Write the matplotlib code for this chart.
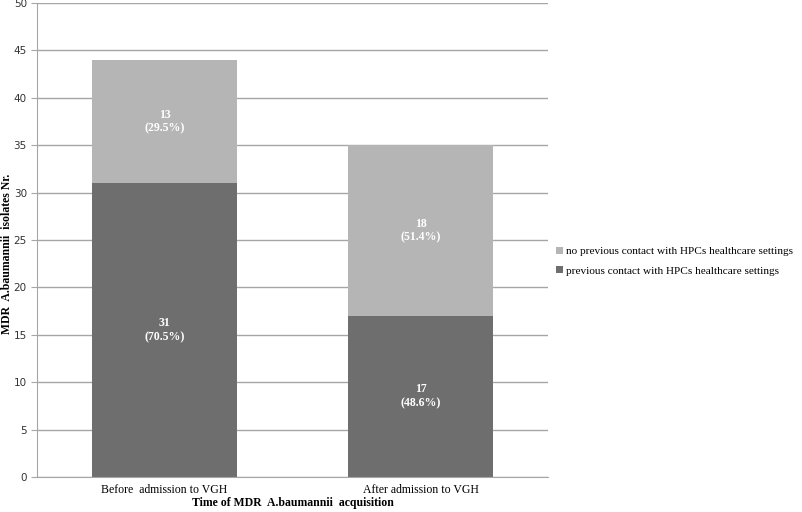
import matplotlib.pyplot as plt
import numpy as np

categories = ['Before  admission to VGH', 'After admission to VGH']
previous = [31, 17]
no_previous = [13, 18]
prev_pct = ['70.5%', '48.6%']
no_prev_pct = ['29.5%', '51.4%']

dark = '#6e6e6e'
light = '#b5b5b5'
grid_c = '#a6a6a6'

fig = plt.figure(figsize=(8.03, 5.12), dpi=100)
ax = fig.add_axes([0.0455, 0.0684, 0.6375, 0.9258])

x = np.arange(len(categories))
w = 0.566
b1 = ax.bar(x, previous, w, color=dark, label='previous contact with HPCs healthcare settings', zorder=2)
b2 = ax.bar(x, no_previous, w, bottom=previous, color=light,
            label='no previous contact with HPCs healthcare settings', zorder=2)

for i in range(len(categories)):
    ax.text(x[i], previous[i] / 2, f'{previous[i]}\n({prev_pct[i]})', ha='center', va='center',
            color='white', fontweight='bold', family='Liberation Serif', fontsize=8.5, linespacing=1.2)
    ax.text(x[i], previous[i] + no_previous[i] / 2, f'{no_previous[i]}\n({no_prev_pct[i]})', ha='center',
            va='center', color='white', fontweight='bold', family='Liberation Serif', fontsize=8.5,
            linespacing=1.2)

ax.set_xlim(-0.5, 1.5)
ax.set_ylim(0, 50)
ax.set_yticks(range(0, 51, 5))
ax.yaxis.grid(True, color=grid_c, linewidth=1, zorder=0)
ax.set_axisbelow(True)
for s in ['top', 'right']:
    ax.spines[s].set_visible(False)
for s in ['left', 'bottom']:
    ax.spines[s].set_color(grid_c)
ax.tick_params(axis='y', length=4, color=grid_c, labelsize=7.5, labelcolor='#333333', pad=3)
ax.tick_params(axis='x', length=0, pad=5)
ax.set_xticks(x)
ax.set_xticklabels(categories, family='Liberation Serif', fontsize=8.5)

ax.set_xlabel('Time of MDR  A.baumannii  acquisition', family='Liberation Serif', fontweight='bold',
              fontsize=8.5, labelpad=1)
ax.set_ylabel('MDR  A.baumannii  isolates Nr.', family='Liberation Serif', fontweight='bold',
              fontsize=8.5, labelpad=2)
ax.yaxis.set_label_coords(-0.046, 0.47)

handles = [b2, b1]
leg = fig.legend(handles, [h.get_label() for h in handles], loc='center left',
                 bbox_to_anchor=(0.683, 0.49), frameon=False, handlelength=0.6, handleheight=0.6,
                 handletextpad=0.25, labelspacing=0.9, borderpad=0.2,
                 prop={'family': 'Liberation Serif', 'size': 8.1})

fig.savefig('out.png', dpi=100)
